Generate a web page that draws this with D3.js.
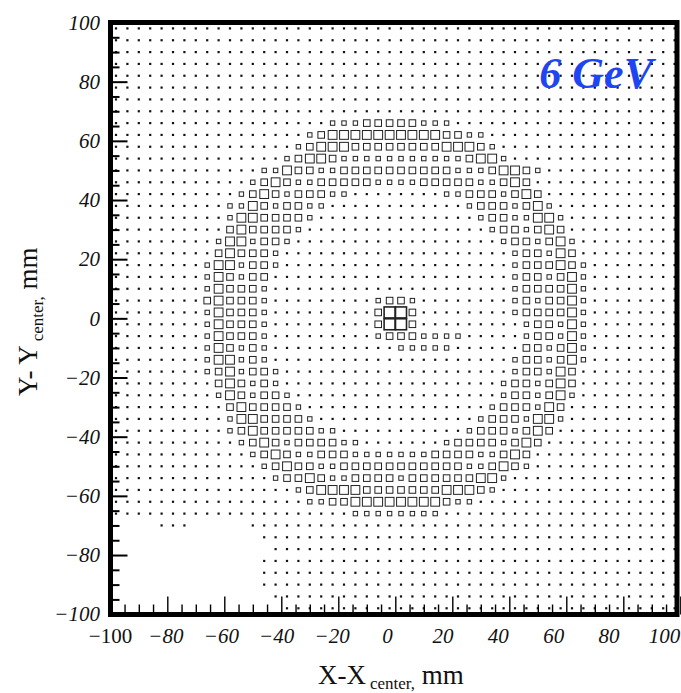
<!DOCTYPE html>
<html>
<head>
<meta charset="utf-8">
<script src="https://cdn.jsdelivr.net/npm/d3@7"></script>
<style>
  body { margin: 0; background: #fff; }
  svg { display: block; }
  svg text { font-family: 'Liberation Serif', 'Times New Roman', serif; }
</style>
</head>
<body>
<script>
// 50 x 50 cells of 4 mm, first row is y = +100 (top), first column x = -100.
// each digit is the cell content level (0 = empty cell)
const cellRows = [
  '11111111 11111111111111111 111111111111111111 1111111',
  '11111111 11111111111111111 111111111111111111 1111111',
  '11111111 11111111111111111 111111111111111111 1111111',
  '11111111 11111111111111111 111111111111111111 1111111',
  '11111111 11111111111111111 111111111111111111 1111111',
  '11111111 11111111111111111 111111111111111111 1111111',
  '11111111 11111111111111111 111111111111111111 1111111',
  '11111111 11111111111111111 111111111111111111 1111111',
  '11111111 11111111111222333 332221111111111111 1111111',
  '11111111 11111111123444444 444433221111111111 1111111',
  '11111111 11111111234443333 333344432111111111 1111111',
  '11111111 11111112344322222 222222344211111111 1111111',
  '11111111 11111224332233333 333332223443211111 1111111',
  '11111111 11112343223333322 223333322343111111 1111111',
  '11111111 11123432333221111 111122333234311111 1111111',
  '11111111 11224323322111111 111111233323421111 1111111',
  '11111111 11244333321111111 111111123322442111 1111111',
  '11111111 11343333211111111 111111112332343111 1111111',
  '11111111 12442332111111111 111111111233234211 1111111',
  '11111111 13433321111111111 111111111123324311 1111111',
  '11111111 24423321111111111 111111111123334321 1111111',
  '11111111 24323311111111111 111111111123323421 1111111',
  '11111111 24333211111111111 111111111123333421 1111111',
  '11111111 34333211111111123 321111111123233421 1111111',
  '11111111 24333211111111135 531111111123333421 1111111',
  '11111111 24333211111111135 531111111112332421 1111111',
  '11111111 24333211111111123 332222111112332421 1111111',
  '11111111 24323211111111111 222221111113323421 1111111',
  '11111111 24423211111111111 111111111123323421 1111111',
  '11111111 23423321111111111 111111111123324311 1111111',
  '11111111 13432321111111111 111111111233234311 1111111',
  '11111111 12432332111111111 111111111233234211 1111111',
  '11111111 11343333211111111 111111112333243111 1111111',
  '11111111 11244333321111111 111111123332442111 1111111',
  '11111111 11234333332211111 111111233323431111 1111111',
  '11111111 11123432333322111 111123333234311111 1111111',
  '11111111 11112343223332222 222333322343111111 1111111',
  '11111111 11111234332233333 333333223432111111 1111111',
  '11111111 11111123343223333 233333344211111111 1111111',
  '11111111 11111111234444333 333344432111111111 1111111',
  '11111111 11111111122334444 444432211111111111 1111111',
  '11111111 11111111111112222 222211111111111111 1111111',
  '00001110 00001111111111111 111111111111111111 1111111',
  '00000000 00000111111111111 111111111111111111 1111111',
  '00000000 00000011111111111 111111111111111111 1111111',
  '00000000 00000111111111111 111111111111111111 1111111',
  '00000000 00000111111111111 111111111111111111 1111111',
  '00000000 00000111111111111 111111111111111111 1111111',
  '00000000 00000011111111111 111111111111111111 1111111',
  '00000000 00000001111111111 111111111111111111 1111111'
];

const xTicks = [-100, -80, -60, -40, -20, 0, 20, 40, 60, 80, 100];
const yTicks = [-100, -80, -60, -40, -20, 0, 20, 40, 60, 80, 100];
const minorStep = 5;
const binWidth = 4;
const energyLabel = '6 GeV';

const width = 681;
const height = 693;
const serif = "'Liberation Serif', 'Times New Roman', serif";

const x = d3.scaleLinear().domain([-100, 100]).range([110.3, 680.3]);
const y = d3.scaleLinear().domain([-100, 100]).range([614.2, 22.5]);
const xLab = d3.scaleLinear().domain([-100, 100]).range([110, 664]);
const size = d3.scaleLinear().domain([0, 5]).range([0, 11]);

const cells = [];
cellRows.forEach((row, j) => {
  row.replace(/\s/g, '').split('').forEach((c, i) => {
    const v = +c;
    if (v > 0) {
      cells.push({ x: -100 + binWidth * (i + 0.5), y: 100 - binWidth * (j + 0.5), v: v });
    }
  });
});

const svg = d3.select('body').append('svg')
    .attr('width', width)
    .attr('height', height);

svg.append('g')
    .attr('class', 'cells')
  .selectAll('rect')
  .data(cells)
  .join('rect')
    .attr('x', d => x(d.x) - size(d.v) / 2)
    .attr('y', d => y(d.y) - size(d.v) / 2)
    .attr('width', d => size(d.v))
    .attr('height', d => size(d.v))
    .attr('fill', d => d.v === 1 ? '#111' : 'none')
    .attr('stroke', d => d.v === 1 ? 'none' : '#222')
    .attr('stroke-width', d => d.v === 5 ? 1.6 : 1);

const minorVals = d3.range(-100, 101, minorStep).filter(v => v % 20 !== 0);

// ticks, drawn inward from the left and bottom frame lines
function tickAxis(axis, vals, len, sw, transform) {
  const g = svg.append('g')
      .attr('transform', transform)
      .call(axis.tickValues(vals).tickSize(-len).tickFormat(''));
  g.select('.domain').remove();
  g.selectAll('line').attr('stroke', '#000').attr('stroke-width', sw);
}
tickAxis(d3.axisLeft(y), yTicks, 17, 2, 'translate(110.5,0)');
tickAxis(d3.axisLeft(y), minorVals, 9, 2, 'translate(110.5,0)');
tickAxis(d3.axisBottom(x), xTicks, 18, 1.4, 'translate(0,614.5)');
tickAxis(d3.axisBottom(x), minorVals, 10, 1.4, 'translate(0,614.5)');

// frame
svg.append('rect')
    .attr('x', 110.5)
    .attr('y', 22.5)
    .attr('width', 566.5)
    .attr('height', 592)
    .attr('fill', 'none')
    .attr('stroke', '#000')
    .attr('stroke-width', 5);

// tick labels
const yl = svg.append('g')
    .attr('transform', 'translate(100,0)')
    .call(d3.axisLeft(y).tickValues(yTicks).tickSize(0).tickPadding(0));
yl.select('.domain').remove();
yl.attr('font-family', null);
yl.selectAll('text')
    .style('font-family', serif)
    .style('font-size', '21px')
    .style('font-style', 'italic')
    .attr('fill', '#111');

const xl = svg.append('g')
    .attr('transform', 'translate(0,628)')
    .call(d3.axisBottom(xLab).tickValues(xTicks).tickSize(0).tickPadding(0));
xl.select('.domain').remove();
xl.attr('font-family', null);
xl.selectAll('text')
    .style('font-family', serif)
    .style('font-size', '21px')
    .style('font-style', d => d === -100 ? 'normal' : 'italic')
    .attr('fill', '#111');

// axis titles
const xt = svg.append('text')
    .attr('x', 318)
    .attr('y', 684)
    .style('font-size', '27px')
    .attr('fill', '#111');
xt.append('tspan').text('X-X');
xt.append('tspan').style('font-size', '17px').attr('dy', 5).attr('dx', 4).text('center,');
xt.append('tspan').attr('dy', -5).text(' mm');

const yt = svg.append('text')
    .attr('transform', 'translate(37,396) rotate(-90)')
    .style('font-size', '27px')
    .attr('fill', '#111');
yt.append('tspan').text('Y- Y');
yt.append('tspan').style('font-size', '17px').attr('dy', 6).attr('dx', 4).text('center,');
yt.append('tspan').attr('dy', -6).text(' mm');

svg.append('text')
    .attr('x', 653)
    .attr('y', 88)
    .attr('text-anchor', 'end')
    .style('font-size', '44px')
    .style('font-weight', 'bold')
    .style('font-style', 'italic')
    .attr('fill', '#1f45f2')
    .text(energyLabel);
</script>
</body>
</html>
